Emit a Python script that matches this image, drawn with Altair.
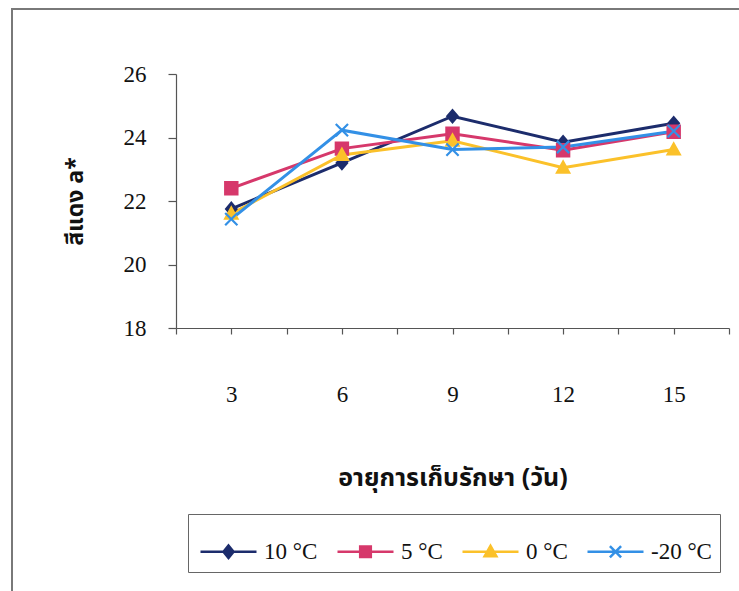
import altair as alt
import pandas as pd

# Storage day (x) and red colour a* value per storage temperature
days = [3, 6, 9, 12, 15]
series = ["10 °C", "5 °C", "0 °C", "-20 °C"]
a_10 = [21.75, 23.2, 24.67, 23.85, 24.45]
a_5 = [22.4, 23.65, 24.12, 23.6, 24.18]
a_0 = [21.6, 23.45, 23.9, 23.05, 23.62]
a_m20 = [21.43, 24.23, 23.62, 23.7, 24.2]
colors = ["#1c2c6c", "#d6386b", "#fbc12a", "#3390e6"]

# marker glyphs on the lines, and line-plus-marker glyphs for the legend
marker_paths = [
    "M0,-1L0.85,0L0,1L-0.85,0Z",
    "M-1,-1H1V1H-1Z",
    "M0,-1L1,0.8L-1,0.8Z",
    "M-1,-1L1,1M-1,1L1,-1",
]
legend_paths = [
    "M-1,0H1M0,-0.22L0.18,0L0,0.22L-0.18,0Z",
    "M-1,0H1M-0.19,-0.19H0.19V0.19H-0.19Z",
    "M-1,0H1M0,-0.21L0.21,0.16L-0.21,0.16Z",
    "M-1,0H1M-0.2,-0.2L0.2,0.2M-0.2,0.2L0.2,-0.2",
]

rows = []
for name, vals in zip(series, [a_10, a_5, a_0, a_m20]):
    for d, v in zip(days, vals):
        rows.append({"day": d, "a": v, "series": name})
df = pd.DataFrame(rows)

tick_values = [1.5, 3, 4.5, 6, 7.5, 9, 10.5, 12, 13.5, 15, 16.5]
x_enc = alt.X(
    "day:Q",
    scale=alt.Scale(domain=[1.5, 16.5], nice=False, zero=False),
    axis=alt.Axis(
        values=tick_values,
        labelExpr="datum.value % 3 == 0 ? datum.label : ''",
        title="อายุการเก็บรักษา (วัน)",
        titleFontSize=25,
        grid=False,
        tickSize=6,
        labelPadding=49,
        titlePadding=59,
        labelFlush=False,
    ),
)
y_enc = alt.Y(
    "a:Q",
    scale=alt.Scale(domain=[18, 26], nice=False, zero=False),
    axis=alt.Axis(
        values=[18, 20, 22, 24, 26],
        title="สีแดง a*",
        grid=False,
        tickSize=8,
        labelPadding=22,
        titlePadding=36,
    ),
)

color_scale = alt.Scale(domain=series, range=colors)

base = alt.Chart(df)

# one line layer and one marker layer per series
line_layers = []
point_layers = []
for i, (name, path, col) in enumerate(zip(series, marker_paths, colors)):
    sub = base.transform_filter(alt.datum.series == name)
    line_layers.append(
        sub.mark_line(strokeWidth=3, color=col).encode(
            x=x_enc if i == 0 else alt.X("day:Q"),
            y=y_enc if i == 0 else alt.Y("a:Q"),
            order="day:Q",
        )
    )
    point_layers.append(
        sub.mark_point(filled=True, shape=path, size=150, strokeWidth=2.2, opacity=1, fill=col, stroke=col)
        .encode(x="day:Q", y="a:Q")
    )

legend_def = alt.Legend(
    title=None,
    orient="none",
    direction="horizontal",
    legendX=12,
    legendY=440,
    padding=8,
    strokeColor="#666666",
    symbolSize=3136,
    symbolStrokeWidth=2.5,
    symbolOpacity=1,
    labelFont="Liberation Serif",
    labelFontSize=23,
    labelColor="#111111",
    labelOffset=6,
    columnPadding=14,
    symbolOffset=3,
)

# zero-size layer whose only job is to carry the legend
legend_layer = base.mark_point(filled=True, size=0, strokeWidth=2.5, opacity=1).encode(
    x="day:Q",
    y="a:Q",
    fill=alt.Fill("series:N", scale=color_scale, legend=legend_def),
    stroke=alt.Stroke("series:N", scale=color_scale, legend=legend_def),
    shape=alt.Shape("series:N", scale=alt.Scale(domain=series, range=legend_paths), legend=legend_def),
)

# thin frame around the whole figure
frame = base.mark_rect(fill=None, stroke="#7a7a7a", strokeWidth=1.5).encode(
    x=alt.value(-164), x2=alt.value(575), y=alt.value(-65), y2=alt.value(530)
)

chart = (
    alt.layer(frame, *line_layers, *point_layers, legend_layer)
    .properties(
        width=553,
        height=254,
        autosize=alt.AutoSizeParams(type="none"),
        padding={"left": 176, "top": 74, "right": 10, "bottom": 263},
    )
    .configure_view(stroke=None)
    .configure_axis(
        domainColor="#555555",
        tickColor="#555555",
        domainWidth=1.2,
        tickWidth=1.2,
        labelFont="Liberation Serif",
        labelFontSize=23,
        labelColor="#111111",
        titleFont="Noto Sans Thai",
        titleFontSize=23,
        titleFontWeight="bold",
        titleColor="#111111",
    )
)

chart.save("out.html", embed_options={"renderer": "svg", "actions": False})
